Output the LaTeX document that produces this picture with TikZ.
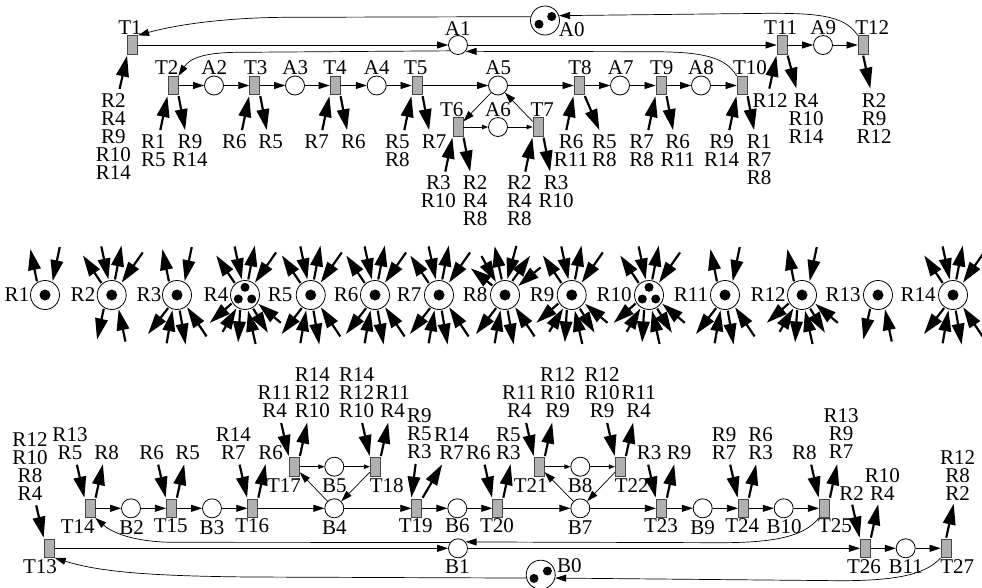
\documentclass[tikz,border=0pt]{standalone}
\usepackage{fontspec}
\setmainfont{Liberation Serif}
\usetikzlibrary{arrows.meta, calc}
\definecolor{trgray}{RGB}{176, 176, 176}
\definecolor{trdark}{RGB}{70, 70, 70}

\begin{document}
\begin{tikzpicture}[
    x=1pt, y=-1pt,
    pl/.style={circle, draw=black, fill=white, line width=0.8pt, minimum size=19pt, inner sep=0pt},
    res/.style={pl, minimum size=29pt},
    tr/.style={rectangle, draw=trdark, fill=trgray, line width=0.8pt, minimum width=10pt,
               minimum height=18.5pt, inner sep=0pt},
    tok/.style={circle, fill=black, minimum size=9pt, inner sep=0pt},
    bigtok/.style={tok, minimum size=11pt},
    lbl/.style={inner sep=0pt, align=center, font=\fontsize{21pt}{18pt}\selectfont},
    arc/.style={-{Triangle[length=11pt,width=7pt]}, line width=0.7pt},
    smallarc/.style={-{Triangle[length=6pt,width=4.5pt]}, line width=0.7pt},
    resout/.style={-{Triangle[length=21pt,width=12.5pt]}, line width=2.2pt, shorten <=1pt, shorten >=0pt},
    resin/.style={{Triangle[length=21pt,width=12.5pt]}-, line width=2.2pt, shorten <=1pt}
  ]
    \useasboundingbox (0,0) rectangle (982,587);

    % Upper net
    \node[res] (A0) at (545,20.5) {};
    \foreach \n/\x/\y in {A1/458/45, A9/823/45,
        A2/214/85.5, A3/295/85.5, A4/376.7/85.5, A5/498/85.5, A7/620/85.5, A8/701/85.5, A6/498/127}
      \node[pl] (\n) at (\x,\y) {};
    \foreach \n/\x/\y in {T1/132.7/45, T11/782/45, T12/863/45,
        T2/173/85.5, T3/254.7/85.5, T4/335/85.5, T5/417/85.5, T8/579/85.5, T9/661/85.5, T10/742/85.5,
        T6/458/127, T7/538/127}
      \node[tr] (\n) at (\x,\y) {};

    % Lower net
    \node[res] (B0) at (540.7,574.7) {};
    \foreach \n/\x/\y in {B1/458/548.3, B11/905.7/548.3,
        B2/131/508.3, B3/212/508.3, B4/334.3/508.3, B6/457.3/508.3, B7/580.3/508.3, B9/702.7/508.3, B10/783.7/508.3,
        B5/334.3/466.7, B8/580.3/466.7}
      \node[pl] (\n) at (\x,\y) {};
    \foreach \n/\x/\y in {T13/49.3/548.3, T26/865.3/548.3, T27/946/548.3,
        T14/90/508.3, T15/171.3/508.3, T16/252.7/508.3, T19/416.7/508.3, T20/497.7/508.3, T23/661.3/508.3, T24/743.3/508.3, T25/824.3/508.3,
        T17/294.3/466.7, T18/375.3/466.7, T21/539.3/466.7, T22/620.3/466.7}
      \node[tr] (\n) at (\x,\y) {};

    % Resources
    \foreach \n/\x in {R1/45, R2/111.7, R3/177, R4/245, R5/310.7, R6/375, R7/439, R8/505, R9/571.7,
        R10/649, R11/725, R12/802, R13/878, R14/953}
      \node[res] (\n) at (\x,295) {};

    % Tokens
    \foreach \n in {R1,R2,R3,R5,R6,R7,R8,R9,R11,R12,R13,R14}
      \node[bigtok] (\n tok) at (\n) {};
    \foreach \n in {R4,R10} {
      \node[tok] (\n toka) at ($(\n)+(0,-7.7)$) {};
      \node[tok] (\n tokb) at ($(\n)+(-6.7,4)$) {};
      \node[tok] (\n tokc) at ($(\n)+(6.7,4)$) {};
    }
    \node[tok] (A0toka) at ($(A0)+(-6,3.7)$) {};
    \node[tok] (A0tokb) at ($(A0)+(6.7,-4)$) {};
    \node[tok] (B0toka) at ($(B0)+(-6.7,3.7)$) {};
    \node[tok] (B0tokb) at ($(B0)+(6.7,-3.7)$) {};

    % Straight arcs
    \foreach \a/\b in {T1/A1, A1/T11, T11/A9, A9/T12, T2/A2, A2/T3, T3/A3, A3/T4, T4/A4, A4/T5, T5/A5,
        A5/T8, T8/A7, A7/T9, T9/A8, A8/T10, A5/T6, T7/A5,
        T13/B1, B1/T26, T26/B11, B11/T27, T14/B2, B2/T15, T15/B3, B3/T16, T16/B4, B4/T19, T19/B6, B6/T20,
        T20/B7, B7/T23, T23/B9, B9/T24, T24/B10, B10/T25, B4/T17, T18/B4, B7/T21, T22/B7}
      \draw[arc] (\a) -- (\b);
    \foreach \a/\b in {T6/A6, A6/T7, T17/B5, B5/T18, T21/B8, B8/T22}
      \draw[smallarc] (\a) -- (\b);

    % Return arcs
    \draw[arc] (A0.165) -- (290,17.3) .. controls (225,17.3) and (175,25) .. (T1.north east);
    \draw[arc] (T12.north west) .. controls (845,15) and (815,13.3) .. (770,13.3) -- (A0.19);
    \draw[arc] (T10.north west) .. controls (725,56) and (700,51.7) .. (650,51.7) -- (A1.-40);
    \draw[arc] (A1.-144) -- (240,52.3) .. controls (205,52.3) and (190,58) .. (T2.north east);
    \draw[arc] (T25.south west) .. controls (805,535) and (780,542.7) .. (720,542.7) -- (B1.40);
    \draw[arc] (B1.144) -- (175,542.3) .. controls (140,542.3) and (115,535) .. (T14.south east);
    \draw[arc] (T27.south west) .. controls (925,575) and (895,580.7) .. (840,580.7) -- (B0.-13);
    \draw[arc] (B0.193) -- (250,577) .. controls (150,576) and (100,572) .. (T13.south east);

    % Resource stubs of the transitions
    \foreach \t in {T2,T3,T4,T5,T6,T7,T9,T10} {
      \draw[resin] (\t.south west) -- ++(-7.3,35);
      \draw[resout] (\t.south east) -- ++(6.7,35);
    }
    \draw[resin] (T1.south west) -- ++(-7.7,34.3);
    \draw[resin] (T8.south west) -- ++(-7.3,35);
    \draw[resout] (T8.south east) -- ++(15,35);
    \draw[resin] (T11.south west) -- ++(-7.3,34);
    \draw[resout] (T11.south east) -- ++(9,34);
    \draw[resout] (T12.south) -- ++(7.3,34);
    \foreach \t in {T14,T15,T16,T17,T18,T20,T21,T22,T23,T24,T25,T26} {
      \draw[resin] (\t.north west) -- ++(-7.7,-34);
    }
    \foreach \t in {T14,T15,T16,T17,T18,T20,T21,T22,T23,T24,T25,T26} {
      \draw[resout] (\t.north east) -- ++(7.5,-34.5);
    }
    \draw[resin] (T13.north west) -- ++(-7.7,-33.3);
    \draw[resin] (T19.north west) -- ++(4.3,-34.7);
    \draw[resout] (T19.north east) -- ++(20,-34.3);
    \draw[resout] (T27.north) -- ++(7.7,-35);

    % Stubs of the resources
    \foreach \r in {R1,R3,R11,R12} \foreach \s/\a/\u/\v in {resout/122/-6.7/-33.3, resin/60/7.3/-35}
      \draw[\s] (\r.\a) -- ++(\u,\v);
    \foreach \r in {R2,R4,R5,R6,R7,R9,R10,R14} \foreach \s/\a/\u/\v in {resout/131/-19/-28.3, resin/102/-7.3/-34,
        resout/78/6.7/-35, resin/51/21.7/-31}
      \draw[\s] (\r.\a) -- ++(\u,\v);
    \foreach \s/\a/\u/\v in {resout/143/-22.3/-17.7, resin/125/-15/-26.7, resout/102/-7.3/-34.3,
        resin/82/9.3/-34.3, resout/63/18.3/-26, resin/34/23.3/-19.3}
      \draw[\s] (R8.\a) -- ++(\u,\v);
    \foreach \r in {R2,R13} \foreach \s/\a/\u/\v in {resout/-121/-7/31.7, resin/-63/7/33.3}
      \draw[\s] (\r.\a) -- ++(\u,\v);
    \foreach \r in {R3,R5,R6,R7,R8,R11,R14} \foreach \s/\a/\u/\v in {resout/-124/-20.7/26.7, resin/-107/-6/34,
        resout/-80/6/35, resin/-50/20/30}
      \draw[\s] (\r.\a) -- ++(\u,\v);
    \foreach \r in {R4,R9,R10,R12} \foreach \s/\a/\u/\v in {resout/-148/-22.7/20, resin/-123/-14.3/24.3,
        resout/-109/-2/33.3, resin/-79/7.7/34.3, resout/-59/15.3/25, resin/-33/23.3/19.7}
      \draw[\s] (\r.\a) -- ++(\u,\v);

    % Labels
    \foreach \x/\y/\s [count=\i] in {
        130/27.7/T1, 457.7/28.3/A1, 571.7/29.3/A0, 780.7/28/T11, 823.3/28/A9, 872.3/28/T12,
        166.7/67.7/T2, 214.3/67.7/A2, 255.7/67.7/T3, 295.3/67.7/A3, 335/67.7/T4, 376.7/67.7/A4,
        415.7/67.7/T5, 498.3/67.7/A5, 580/67.7/T8, 620.7/67.7/A7, 661.7/67.7/T9, 701/67.7/A8, 750/67.7/T10,
        451.7/109.3/T6, 498/109.3/A6, 542.3/109.3/T7,
        113.3/136.7/{R2\\R4\\R9\\R10\\R14}, 153.3/150.7/{R1\\R5}, 190/150.7/{R9\\R14},
        234.3/141.7/R6, 270.7/141.7/R5, 316.7/141.7/R7, 353.3/141.7/R6,
        397.3/150.7/{R5\\R8}, 434/141.7/R7, 438.3/191.5/{R3\\R10}, 475/200.7/{R2\\R4\\R8},
        519.3/200.7/{R2\\R4\\R8}, 556/191.5/{R3\\R10}, 571/150.7/{R6\\R11}, 604.3/150.7/{R5\\R8},
        641.7/150.7/{R7\\R8}, 677.7/150.7/{R6\\R11}, 721.7/150.7/{R9\\R14}, 759/160/{R1\\R7\\R8},
        770/100.7/R12, 806/118.7/{R4\\R10\\R14}, 874/118.7/{R2\\R9\\R12},
        17/295/R1, 83/295/R2, 149/295/R3, 216/295/R4, 280/295/R5, 346/295/R6, 409/295/R7,
        475/295/R8, 542/295/R9, 614/295/R10, 691/295/R11, 768/295/R12, 843/295/R13, 918/295/R14,
        30/466.3/{R12\\R10\\R8\\R4}, 70/443.3/{R13\\R5}, 106.7/452.3/R8, 151.7/452.3/R6, 187.7/452.3/R5,
        233.3/443.3/{R14\\R7}, 270.7/452.3/R6, 274.7/401.5/{R11\\R4}, 312.3/392.7/{R14\\R12\\R10},
        356.7/392.7/{R14\\R12\\R10}, 392.7/401.5/{R11\\R4}, 419.3/434/{R9\\R5\\R3}, 451.7/443.3/{R14\\R7},
        478.3/452.3/R6, 508.3/443.3/{R5\\R3}, 519.3/401.5/{R11\\R4}, 557.7/392.7/{R12\\R10\\R9},
        602/392.7/{R12\\R10\\R9}, 638.7/401.5/{R11\\R4}, 649/452.3/R3, 679/452.3/R9,
        724/443.3/{R9\\R7}, 760.7/443.3/{R6\\R3}, 804.3/452.3/R8, 841/434/{R13\\R9\\R7},
        851.7/493.3/R2, 882.3/484.3/{R10\\R4}, 957.7/475.3/{R12\\R8\\R2},
        284/485.7/T17, 334.3/485.7/B5, 386.7/485.7/T18, 530.7/485.7/T21, 580/485.7/B8, 631.7/485.7/T22,
        77.7/526.7/T14, 131.7/527.7/B2, 170.7/526/T15, 212/527.7/B3, 252.3/526/T16, 334.3/527.7/B4,
        415.7/526/T19, 457.3/526/B6, 497/526/T20, 580/527.7/B7, 661/526/T23, 702.7/527.7/B9,
        742.3/526/T24, 784/527/B10, 835/526/T25,
        40/566.7/T13, 457.3/566.7/B1, 569.3/565.7/B0, 864/566.7/T26, 905.7/566.7/B11, 957.3/566.7/T27}
      \node[lbl] (lab\i) at (\x,\y) {\s};
\end{tikzpicture}
\end{document}
